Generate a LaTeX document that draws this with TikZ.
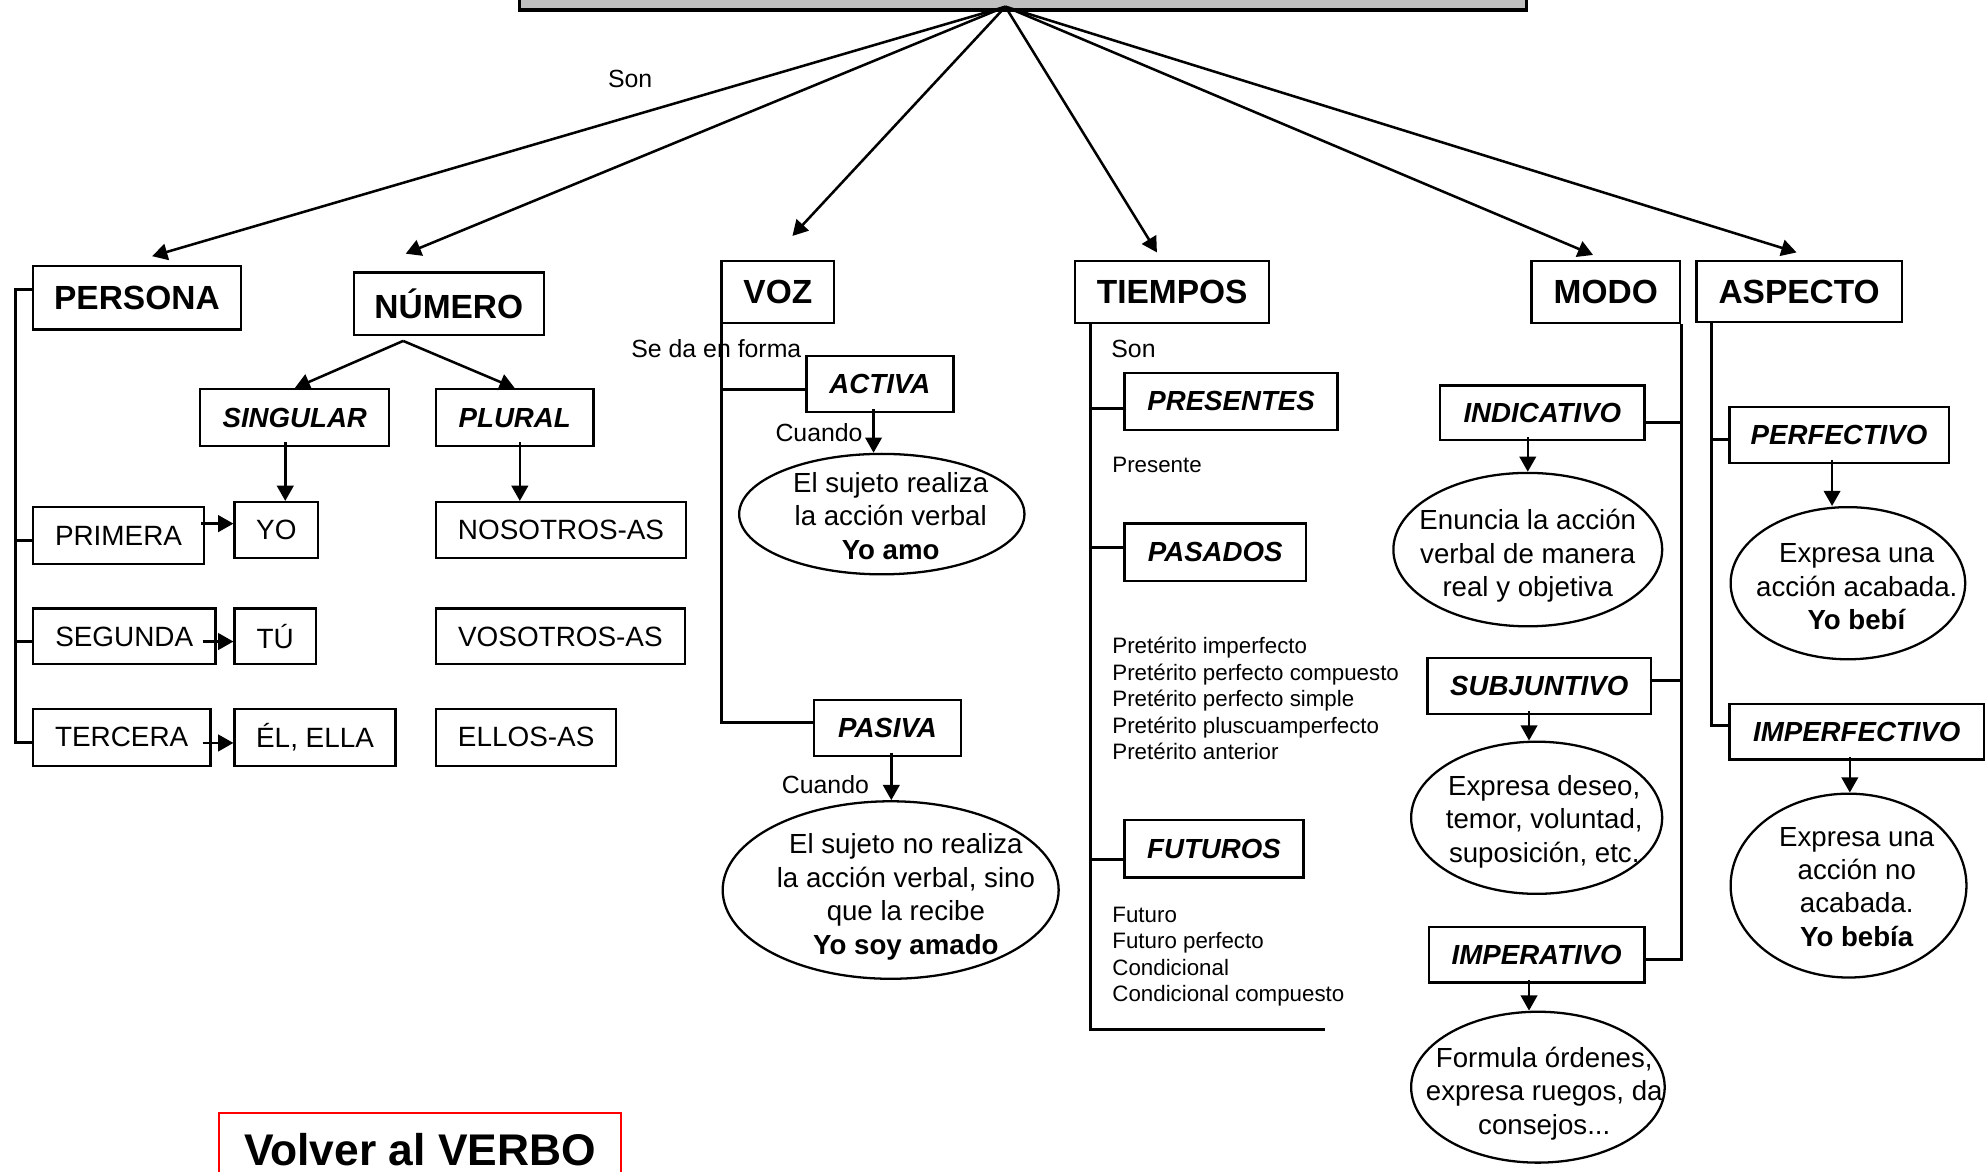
\documentclass[tikz,border=0pt]{standalone}
\usepackage{fontspec}
\setmainfont{Liberation Sans}
\usetikzlibrary{arrows.meta}
\usetikzlibrary{shapes}
\tikzstyle{titulo}=[draw,line width=1.3pt,fill=black!25,minimum width=397pt,minimum height=30pt]
\tikzstyle{caja}=[draw,line width=0.9pt,fill=white,inner sep=0pt,font=\fontsize{13.2}{15}\selectfont\bfseries]
\tikzstyle{subcaja}=[draw,line width=0.9pt,fill=white,inner sep=0pt,font=\fontsize{10.9}{13}\selectfont\bfseries\itshape]
\tikzstyle{hoja}=[draw,line width=0.9pt,fill=white,inner sep=0pt,font=\fontsize{11}{13}\selectfont]
\tikzstyle{nube}=[ellipse,draw,line width=0.9pt,inner sep=0pt]
\tikzstyle{nubetexto}=[align=center,inner sep=0pt,font=\fontsize{10.9}{13.2}\selectfont]
\tikzstyle{nota}=[inner sep=0pt,font=\fontsize{9.8}{12}\selectfont]
\tikzstyle{lista}=[align=left,anchor=north west,inner sep=0pt,font=\fontsize{8.8}{10.5}\selectfont]
\tikzstyle{volver}=[draw=red,line width=0.8pt,anchor=north west,inner xsep=8pt,inner ysep=8pt,minimum width=158.5pt,font=\fontsize{17.5}{20}\selectfont\bfseries]
\tikzstyle{flecha} = [draw,line width=1pt,-{Triangle[length=6pt,width=6.5pt]}]
\tikzstyle{rama} = [draw,line width=1.2pt]

\begin{document}
\begin{tikzpicture}[x=0.5pt,y=-0.5pt]
\useasboundingbox (0,0) rectangle (1568,924);

  % caja del verbo (solo se ve el borde de abajo)
  \node[titulo] (verbo) at (807,-22) {};
  \coordinate (hub) at ([shift={(-14,-4)}]verbo.south);

  \foreach \x/\y/\w/\h/\name/\label in {108/235/82/25/persona/PERSONA, 354/239.5/75/24.5/numero/NÚMERO, 613.5/230.5/44.5/24.5/voz/VOZ, 924.5/230.5/76.5/24.5/tiempos/TIEMPOS, 1266.5/230.5/58.5/24.5/modo/MODO, 1419/230/81/24/aspecto/ASPECTO}
          \node[caja, minimum width=\w pt, minimum height=\h pt] (\name) at (\x,\y) {\label};

  \foreach \x/\y/\w/\h/\name/\label in {232.5/329.5/74.5/22.5/singular/SINGULAR, 406/329.5/62/22.5/plural/PLURAL, 694/303/58/22/activa/ACTIVA, 700/574/58/22/pasiva/PASIVA, 971/316.5/84/22.5/presentes/PRESENTES, 958.5/435.5/71.5/22.5/pasados/PASADOS, 957.5/669.5/70.5/22.5/futuros/FUTUROS, 1216.5/325.5/80.5/21.5/indicativo/INDICATIVO, 1214/541/88/22/subjuntivo/SUBJUNTIVO, 1212/753/85/22/imperativo/IMPERATIVO, 1450.5/343/86.5/22/perfectivo/PERFECTIVO, 1464.5/577/100.5/22/imperfectivo/IMPERFECTIVO}
          \node[subcaja, minimum width=\w pt, minimum height=\h pt] (\name) at (\x,\y) {\label};

  \foreach \x/\y/\w/\h/\name/\label in {93.5/422.5/67.5/22.5/primera/PRIMERA, 218/418/33/22/yo/YO, 98/502/72/22/segunda/SEGUNDA, 217/502/32/22/tu/TÚ, 96/581.5/70/22.5/tercera/TERCERA, 248.5/581.5/63.5/22.5/el/{ÉL, ELLA}, 442.5/418/98.5/22/nosotros/NOSOTROS-AS, 442/502/98/22/vosotros/VOSOTROS-AS, 415/581.5/71/22.5/ellos/ELLOS-AS}
          \node[hoja, minimum width=\w pt, minimum height=\h pt] (\name) at (\x,\y) {\label};

  \foreach \x/\y/\w/\h/\name in {695.5/405.5/112.5/47.5/defactiva, 702.5/702/132.5/70/defpasiva, 1205/433.5/106/60.5/defindicativo, 1212/645/99/60/defsubjuntivo, 1213/857.5/100/59.5/defimperativo, 1457.5/460/92.5/60/defperfectivo, 1458/698.5/93/72.5/defimperfectivo}
          \node[nube, minimum width=\w pt, minimum height=\h pt] (\name) at (\x,\y) {};

  \node[nubetexto] (tactiva) at ([shift={(7,1.5)}]defactiva) {El sujeto realiza\\la acción verbal\\\textbf{Yo amo}};
  \node[nubetexto] (tpasiva) at ([shift={(12,5.5)}]defpasiva) {El sujeto no realiza\\la acción verbal, sino\\que la recibe\\\textbf{Yo soy amado}};
  \node[nubetexto] (tindicativo) at ([shift={(0,5)}]defindicativo) {Enuncia la acción\\verbal de manera\\real y objetiva};
  \node[nubetexto] (tsubjuntivo) at ([shift={(6,3)}]defsubjuntivo) {Expresa deseo,\\temor, voluntad,\\suposición, etc.};
  \node[nubetexto] (timperativo) at ([shift={(5,5)}]defimperativo) {Formula órdenes,\\expresa ruegos, da\\consejos...};
  \node[nubetexto] (tperfectivo) at ([shift={(7,3)}]defperfectivo) {Expresa una\\acción acabada.\\\textbf{Yo bebí}};
  \node[nubetexto] (timperfectivo) at ([shift={(6.5,1)}]defimperfectivo) {Expresa una\\acción no\\acabada.\\\textbf{Yo bebía}};

  % textos sueltos
  \node[nota] (son) at (497,62) {Son};
  \node[nota] (seda) at (565,275) {Se da en forma};
  \node[nota] (cuandoa) at (646,341) {Cuando};
  \node[nota] (cuandop) at (651,619) {Cuando};
  \node[nota] (sont) at (894,275) {Son};
  \node[lista,anchor=west] (presente) at (877,366.5) {Presente};
  \node[lista] (preteritos) at (877,502) {Pretérito imperfecto\\Pretérito perfecto compuesto\\Pretérito perfecto simple\\Pretérito pluscuamperfecto\\Pretérito anterior};
  \node[lista] (futuro) at (877,714.7) {Futuro\\Futuro perfecto\\Condicional\\Condicional compuesto};

  \node[volver] (volver) at (172,877) {Volver al VERBO};

  % flechas desde el verbo
  \foreach \dest/\dx/\dy in {persona/12/-7, numero/-34/-14, voz/11.5/-19, tiempos/-12/-6, modo/-10/-4, aspecto/-2/-6}
         \path[flecha] (hub) -- ([shift={(\dx,\dy)}]\dest.north);

  % persona
  \draw[rama] ([shift={(0,-7)}]persona.west) -- ++(-13,0) |- ([shift={(0,4.5)}]tercera.west);
  \foreach \n/\dy in {primera/3.5, segunda/4}
         \draw[rama] ([shift={(0,\dy)}]\n.west) -- ++(-13,0);
  \foreach \source/\dest/\dx/\dy in {primera/yo/-3/-9.5, segunda/tu/-11/4, tercera/el/-7/4.5}
         \path[flecha] ([shift={(\dx,\dy)}]\source.east) -- ([shift={(0,\dy)}]\source.east -| \dest.west);

  % numero
  \foreach \dest in {singular, plural}
         \path[flecha] ([shift={(-36,4)}]numero.south) -- (\dest.north);
  \path[flecha] ([shift={(-7.5,-4)}]singular.south) -- ([shift={(-7.5,0)}]singular.south |- yo.north);
  \path[flecha] ([shift={(4,-4)}]plural.south) -- ([shift={(4,0)}]plural.south |- nosotros.north);

  % voz
  \draw[rama] ([shift={(1,0)}]voz.south west) |- ([shift={(0,-4)}]pasiva.west);
  \draw[rama] ([shift={(0,4)}]activa.west) -- ++(-66,0);

  % tiempos
  \draw[rama] ([shift={(13,0)}]tiempos.south west) -- ++(0,556) -- ++(185,0);
  \foreach \n/\dy in {presentes/5.5, pasados/-3.5, futuros/8.5}
         \draw[rama] ([shift={(0,\dy)}]\n.west) -- ++(-26,0);

  % modo
  \draw[rama] (modo.south east) |- ([shift={(0,4)}]imperativo.east);
  \foreach \n/\dy in {indicativo/7.5, subjuntivo/-4}
         \draw[rama] ([shift={(0,\dy)}]\n.east) -- ([shift={(0,\dy)}]\n.east -| modo.east);

  % aspecto
  \draw[rama] ([shift={(13,0)}]aspecto.south west) |- ([shift={(0,-5)}]imperfectivo.west);
  \draw[rama] ([shift={(0,4)}]perfectivo.west) -- ++(-13,0);

  % hacia las definiciones
  \foreach \source/\dest/\dx in {activa/defactiva/-5, pasiva/defpasiva/3, indicativo/defindicativo/-11.5, subjuntivo/defsubjuntivo/-8, imperativo/defimperativo/-6, perfectivo/defperfectivo/-5.5, imperfectivo/defimperfectivo/-5.5}
         \path[flecha] ([shift={(\dx,-3)}]\source.south) -- ([shift={(\dx,0)}]\source.south |- \dest.north);

\end{tikzpicture}
\end{document}
